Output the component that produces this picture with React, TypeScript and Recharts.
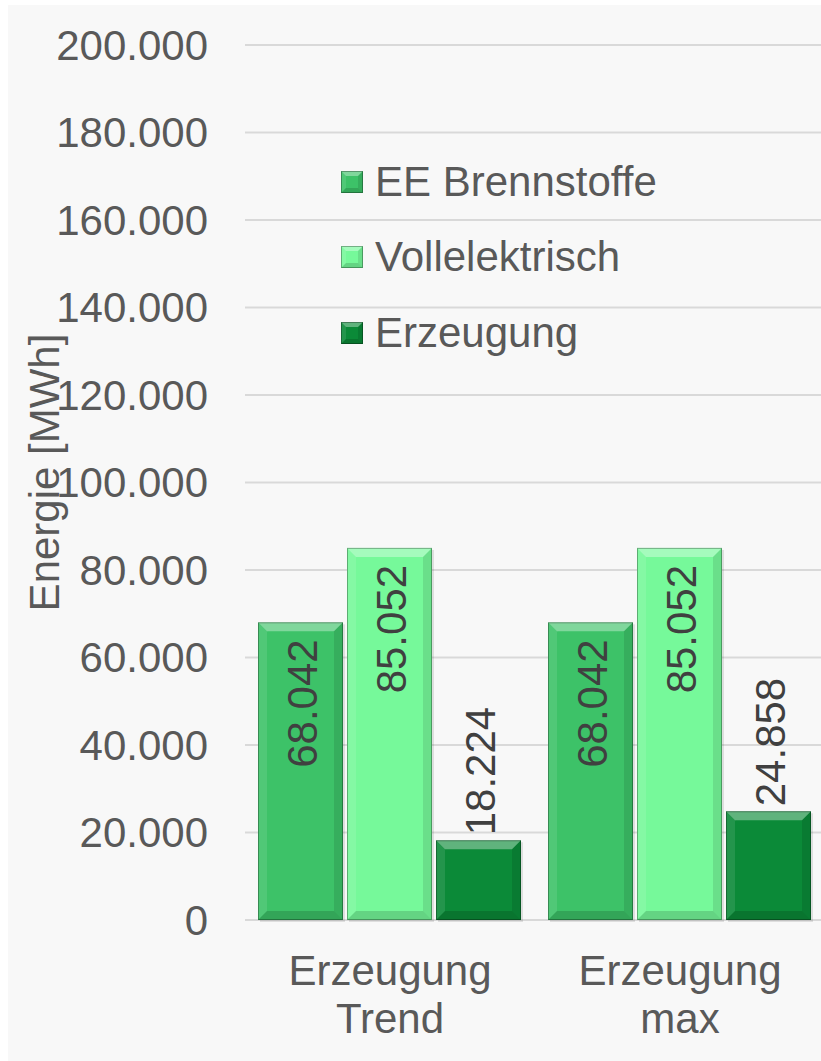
import { BarChart, Bar, XAxis, YAxis, CartesianGrid, Legend, LabelList, Label } from 'recharts';

const categories = ['Erzeugung Trend', 'Erzeugung max'];
const eeBrennstoffe = [68042, 68042];
const vollelektrisch = [85052, 85052];
const erzeugung = [18224, 24858];
const yTicks = [0, 20000, 40000, 60000, 80000, 100000, 120000, 140000, 160000, 180000, 200000];

const series = [
  { key: 'ee', name: 'EE Brennstoffe', color: '#3dc268' },
  { key: 'voll', name: 'Vollelektrisch', color: '#76f99a' },
  { key: 'erz', name: 'Erzeugung', color: '#0b8a38' },
];

const data = categories.map((c, i) => ({
  name: c,
  ee: eeBrennstoffe[i],
  voll: vollelektrisch[i],
  erz: erzeugung[i],
}));

const FONT = '"Liberation Sans", Arial, sans-serif';
const TEXT = '#595959';

const fmt = (v: number) => String(Math.round(v)).replace(/\B(?=(\d{3})+(?!\d))/g, '.');

function bevel(x: number, y: number, w: number, h: number, b: number, color: string) {
  const bb = Math.min(b, w / 2, h / 2);
  return (
    <g>
      <rect x={x} y={y} width={w} height={h} fill={color} />
      <polygon points={`${x},${y} ${x + w},${y} ${x + w - bb},${y + bb} ${x + bb},${y + bb}`} fill="#ffffff" fillOpacity={0.35} />
      <polygon points={`${x},${y} ${x + bb},${y + bb} ${x + bb},${y + h - bb} ${x},${y + h}`} fill="#ffffff" fillOpacity={0.1} />
      <polygon points={`${x + w},${y} ${x + w},${y + h} ${x + w - bb},${y + h - bb} ${x + w - bb},${y + bb}`} fill="#000000" fillOpacity={0.1} />
      <polygon points={`${x},${y + h} ${x + w},${y + h} ${x + w - bb},${y + h - bb} ${x + bb},${y + h - bb}`} fill="#000000" fillOpacity={0.15} />
      <rect x={x + 0.5} y={y + 0.5} width={w - 1} height={h - 1} fill="none" stroke="#000" strokeOpacity={0.3} strokeWidth={1} />
    </g>
  );
}

const makeShape = (color: string) => (props: any) => {
  const { x, y, width, height } = props;
  if (!height || height <= 0) return <g />;
  return (
    <g>
      <rect x={x + 2} y={y + 2} width={width} height={height} fill="#000" fillOpacity={0.1} />
      {bevel(x, y, width, height, 9, color)}
    </g>
  );
};

const ValueLabel = (props: any) => {
  const { x, y, width, height, value } = props;
  const cx = x + width / 2 + 2;
  const inside = height > 155;
  const ay = inside ? y + 17 : y - 5;
  return (
    <text
      x={cx}
      y={ay}
      transform={`rotate(-90, ${cx}, ${ay})`}
      textAnchor={inside ? 'end' : 'start'}
      dominantBaseline="central"
      fontSize={42}
      fontFamily={FONT}
      fill="#404040"
    >
      {fmt(value)}
    </text>
  );
};

const CategoryTick = (props: any) => {
  const { x, y, payload } = props;
  const lines = String(payload.value).split(' ');
  return (
    <g>
      {lines.map((l, i) => (
        <text key={i} x={x} y={y + 65 + i * 48} textAnchor="middle" fontSize={42} fontFamily={FONT} fill={TEXT}>
          {l}
        </text>
      ))}
    </g>
  );
};

const LegendContent = () => (
  <div style={{ fontFamily: FONT, fontSize: 42, color: TEXT }}>
    {series.map((s) => (
      <div key={s.key} style={{ display: 'flex', alignItems: 'center', height: 75.5 }}>
        <svg width={22} height={22} style={{ marginRight: 12 }}>
          {bevel(0, 0, 22, 22, 5, s.color)}
        </svg>
        <span style={{ lineHeight: 1 }}>{s.name}</span>
      </div>
    ))}
  </div>
);

export default function App() {
  return (
    <div
      style={{
        position: 'fixed',
        top: 5,
        left: 8,
        width: 813,
        height: 1056,
        background: '#f8f8f8',
        overflow: 'hidden',
      }}
    >
      <BarChart
        width={820}
        height={1056}
        data={data}
        margin={{ top: 40, right: 3, bottom: 0, left: 0 }}
        barCategoryGap={13}
        barGap={4}
      >
        <CartesianGrid vertical={false} stroke="#d9d9d9" strokeWidth={2} />
        <XAxis
          dataKey="name"
          axisLine={false}
          tickLine={false}
          tickSize={0}
          tickMargin={0}
          height={141}
          interval={0}
          tick={<CategoryTick />}
        />
        <YAxis
          width={237}
          domain={[0, 200000]}
          ticks={yTicks}
          axisLine={false}
          tickLine={false}
          tickSize={0}
          tickMargin={37}
          tickFormatter={fmt}
          tick={{ fill: TEXT, fontSize: 42, fontFamily: FONT }}
        >
          <Label
            content={(p: any) => {
              const vb = p.viewBox;
              const lx = vb.x + 36;
              const ly = vb.y + vb.height / 2 - 10;
              return (
                <text
                  x={lx}
                  y={ly}
                  transform={`rotate(-90, ${lx}, ${ly})`}
                  textAnchor="middle"
                  dominantBaseline="central"
                  fontSize={42}
                  fontFamily={FONT}
                  fill={TEXT}
                >
                  Energie [MWh]
                </text>
              );
            }}
          />
        </YAxis>
        <Legend
          layout="vertical"
          align="center"
          verticalAlign="middle"
          content={<LegendContent />}
          wrapperStyle={{ top: 139, left: 333, width: 'auto' }}
        />
        {series.map((s) => (
          <Bar key={s.key} dataKey={s.key} name={s.name} fill={s.color} shape={makeShape(s.color)} isAnimationActive={false}>
            <LabelList dataKey={s.key} content={<ValueLabel />} />
          </Bar>
        ))}
      </BarChart>
    </div>
  );
}
